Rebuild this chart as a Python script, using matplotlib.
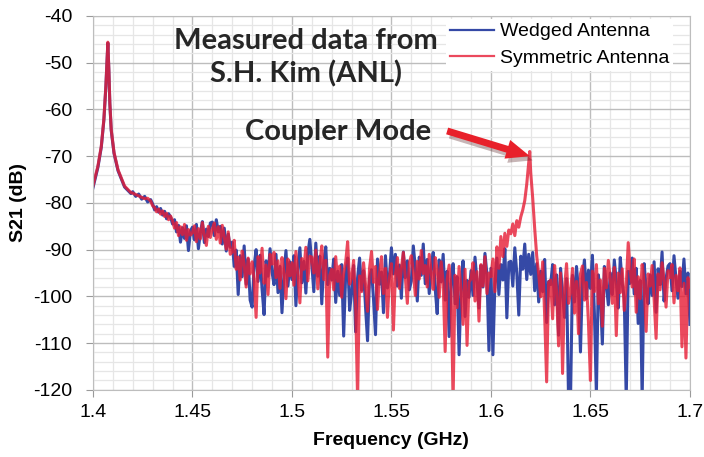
import numpy as np
import matplotlib.pyplot as plt
import matplotlib.patheffects as pe
from matplotlib.ticker import MultipleLocator

plt.rcParams['axes.unicode_minus'] = False
plt.rcParams['font.family'] = ['Liberation Sans', 'DejaVu Sans']

# --- data ---
# low-frequency resonance (shared shape, both antennas)
start_freq = [1.400, 1.4025, 1.4042, 1.4055, 1.4065, 1.4072, 1.4075, 1.4080,
              1.4085, 1.4092, 1.4106, 1.4126, 1.4159, 1.4191, 1.4200, 1.4215,
              1.4230, 1.4245, 1.4260, 1.4275, 1.4290]
wedged_start = [-76.8, -72.4, -68.1, -62.3, -55.2, -48.6, -45.8, -51.6,
                -58.8, -64.5, -69.4, -73.1, -76.6, -78.0, -77.6, -78.6,
                -78.1, -79.2, -78.6, -79.8, -79.3]
symmetric_start = [-76.4, -72.1, -67.9, -62.1, -55.0, -48.4, -45.6, -51.4,
                   -58.6, -64.3, -69.2, -72.9, -76.4, -77.8, -77.9, -78.2,
                   -78.5, -78.8, -79.1, -79.0, -79.6]

# noisy part, one value every 1 MHz from 1.430 to 1.700 GHz
noise_freq = np.round(np.arange(1.430, 1.7005, 0.001), 3)
wedged_noise = [
    -80.2, -81.5, -80.8, -82.0, -81.2, -82.6, -81.8, -83.4, -82.3, -83.0,
    -84.5, -83.6, -86.2, -84.8, -88.4, -85.3, -87.6, -84.9, -90.2, -86.0,
    -85.2, -87.9, -84.6, -89.8, -86.3, -84.0, -88.5, -85.6, -87.2, -84.3,
    -84.1, -87.0, -83.6, -86.2, -85.0, -88.8, -85.4, -90.3, -86.7, -89.5,
    -88.4, -93.6, -90.1, -99.6, -91.3, -95.8, -89.2, -97.4, -92.0, -100.8,
    -102.3, -93.5, -90.0, -96.8, -91.2, -98.5, -103.9, -92.4, -95.7, -89.8,
    -94.8, -97.5, -91.0, -99.2, -93.6, -103.5, -95.4, -90.2, -97.8, -92.6,
    -96.4, -91.3, -102.0, -93.8, -89.6, -97.1, -92.5, -99.3, -90.8, -87.8,
    -93.2, -99.0, -88.6, -95.7, -91.4, -101.6, -92.8, -89.4, -97.5, -94.0,
    -96.5, -92.0, -101.3, -94.6, -99.8, -93.2, -108.5, -95.4, -91.8, -103.0,
    -99.2, -93.4, -107.6, -96.0, -91.8, -98.7, -94.5, -102.4, -109.5, -95.9,
    -94.3, -100.6, -108.2, -92.0, -97.4, -94.8, -103.5, -91.3, -98.2, -95.6,
    -89.6, -95.2, -91.0, -97.8, -93.3, -100.4, -90.5, -96.0, -92.4, -98.6,
    -96.7, -89.2, -93.8, -101.0, -91.6, -95.5, -88.8, -97.3, -92.1, -99.4,
    -93.8, -90.6, -98.4, -103.7, -92.2, -96.9, -91.0, -100.8, -94.6, -108.6,
    -97.4, -93.0, -101.6, -95.8, -112.5, -98.0, -92.4, -104.3, -96.6, -100.2,
    -94.5, -99.8, -91.6, -96.8, -102.5, -93.4, -98.0, -90.8, -95.3, -111.6,
    -94.0, -112.5, -97.3, -91.8, -99.6, -93.2, -96.5, -89.8, -104.6, -92.7,
    -92.5, -97.8, -89.6, -95.0, -104.0, -91.4, -94.2, -88.8, -96.4, -91.0,
    -95.3, -90.6, -98.8, -93.0, -101.2, -94.6, -99.0, -92.1, -105.6, -96.8,
    -97.5, -93.2, -101.8, -95.4, -108.3, -94.0, -99.6, -104.5, -96.2, -122.0,
    -122.0, -95.5, -101.2, -93.6, -98.7, -111.9, -96.0, -92.2, -100.5, -94.4,
    -98.3, -91.2, -103.6, -121.0, -95.4, -99.8, -110.2, -93.6, -97.5, -101.8,
    -95.0, -99.6, -92.2, -96.8, -102.5, -91.7, -97.3, -100.4, -122.0, -94.6,
    -97.2, -91.8, -99.5, -94.0, -105.8, -96.6, -122.0, -93.0, -98.4, -101.6,
    -95.4, -99.8, -92.6, -103.4, -94.1, -97.5, -90.5, -101.0, -96.2, -93.5,
    -93.0, -98.8, -91.3, -96.2, -100.4, -94.6, -97.9, -92.0, -99.5, -95.0, -106.0]
symmetric_noise = [
    -80.6, -81.0, -81.9, -81.3, -82.4, -81.7, -82.9, -82.2, -83.6, -82.8,
    -83.8, -85.4, -84.2, -87.0, -85.1, -86.8, -84.6, -88.0, -85.7, -86.9,
    -86.4, -84.9, -88.3, -85.5, -87.7, -84.2, -86.9, -89.1, -85.0, -87.4,
    -85.6, -84.3, -87.8, -85.1, -88.6, -84.8, -87.3, -89.9, -86.2, -91.0,
    -90.5, -88.0, -94.2, -91.6, -96.5, -90.3, -93.1, -98.0, -91.8, -95.2,
    -92.6, -96.3, -104.5, -91.5, -95.0, -89.7, -97.2, -93.3, -99.6, -91.0,
    -93.1, -90.6, -96.0, -92.4, -98.3, -91.7, -94.9, -100.5, -92.0, -95.6,
    -92.8, -97.6, -90.4, -95.3, -101.4, -91.9, -94.2, -89.5, -96.7, -91.4,
    -91.6, -95.0, -90.1, -98.4, -93.0, -89.2, -96.4, -92.3, -113.0, -95.5,
    -94.2, -98.6, -91.5, -96.8, -93.5, -100.2, -95.0, -92.7, -88.3, -97.4,
    -96.0, -92.3, -101.5, -122.0, -95.6, -99.0, -92.8, -97.5, -103.2, -94.0,
    -90.4, -97.0, -93.6, -102.8, -95.2, -91.5, -99.4, -94.0, -104.5, -96.1,
    -93.0, -107.2, -95.4, -91.7, -98.3, -93.9, -90.6, -96.2, -101.5, -92.8,
    -91.3, -94.6, -99.8, -92.5, -96.3, -90.2, -95.1, -93.4, -98.0, -91.0,
    -95.0, -98.5, -91.7, -94.3, -100.2, -92.6, -97.0, -111.8, -96.4, -93.3,
    -99.0, -122.0, -95.5, -102.4, -93.6, -98.8, -106.0, -94.2, -110.5, -97.0,
    -96.2, -92.8, -101.0, -94.7, -105.3, -93.2, -97.8, -91.5, -99.4, -95.0,
    -95.8, -92.0, -99.0, -89.4, -94.0, -87.2, -91.5, -86.5, -89.3, -85.8,
    -86.6, -84.5, -87.0, -83.8, -85.2, -83.0, -81.5, -79.5, -76.0, -71.5,
    -73.5, -79.0, -85.5, -91.3, -95.2, -100.1, -92.6, -104.0, -118.3, -97.0,
    -96.5, -104.8, -93.4, -99.2, -110.6, -95.0, -116.5, -98.2, -93.0, -101.5,
    -99.3, -94.0, -103.6, -96.8, -108.0, -95.2, -93.5, -100.8, -97.0, -105.5,
    -118.0, -94.6, -99.0, -93.2, -101.6, -96.5, -106.4, -94.0, -98.2, -92.3,
    -96.3, -101.5, -93.8, -108.4, -95.0, -99.2, -94.1, -103.0, -97.6, -88.5,
    -94.4, -98.0, -92.0, -103.4, -95.8, -100.5, -93.2, -97.0, -107.5, -95.2,
    -97.8, -93.4, -100.6, -109.0, -95.2, -98.6, -92.8, -96.4, -102.3, -94.5,
    -96.0, -93.2, -101.4, -95.5, -98.8, -93.9, -110.8, -97.2, -113.2, -96.0, -98.0]

# coupler mode peak top (symmetric antenna only)
coupler_freq = [1.6195]
coupler_peak = [-69.0]

# --- assemble series ---
wedged_f = np.concatenate([start_freq, noise_freq])
wedged_v = np.concatenate([wedged_start, wedged_noise])

sym_f = np.concatenate([start_freq, noise_freq, coupler_freq])
sym_v = np.concatenate([symmetric_start, symmetric_noise, coupler_peak])
order = np.argsort(sym_f, kind='stable')
sym_f, sym_v = sym_f[order], sym_v[order]

# --- plot ---
fig = plt.figure(figsize=(7.04, 4.57), dpi=100)
ax = fig.add_axes([0.132, 0.147, 0.848, 0.818])

ax.plot(wedged_f, wedged_v, color='#3549a6', lw=2.2, label='Wedged Antenna')
ax.plot(sym_f, sym_v, color='#e61c34', lw=2.2, alpha=0.8, label='Symmetric Antenna')

ax.set_xlim(1.4, 1.7)
ax.set_ylim(-120, -40)
ax.xaxis.set_minor_locator(MultipleLocator(0.01))
ax.yaxis.set_major_locator(MultipleLocator(10))
ax.yaxis.set_minor_locator(MultipleLocator(2))
ax.set_xticks([1.4, 1.45, 1.5, 1.55, 1.6, 1.65, 1.7])
ax.set_xticklabels(['1.4', '1.45', '1.5', '1.55', '1.6', '1.65', '1.7'])

ax.grid(True, which='major', color='#bdbdbd', lw=1.0)
ax.grid(True, which='minor', color='#e6e6e6', lw=0.9)
ax.set_axisbelow(True)
for s in ax.spines.values():
    s.set_color('#bdbdbd')
ax.tick_params(which='major', direction='out', length=5, color='#9a9a9a',
               labelsize=14)
ax.tick_params(axis='y', pad=10)
ax.tick_params(axis='x', pad=5)
ax.tick_params(which='minor', length=0)

ax.set_xlabel('Frequency (GHz)', fontsize=14, fontweight='bold', labelpad=8)
ax.set_ylabel('S21 (dB)', fontsize=14, fontweight='bold', labelpad=4)

leg = ax.legend(loc='upper left', bbox_to_anchor=(0.591, 0.992), fontsize=14,
                frameon=True, fancybox=False, handlelength=2.3, handletextpad=0.3,
                borderaxespad=0, borderpad=0.2, labelspacing=0.45)
leg.get_frame().set_edgecolor('none')
leg.get_frame().set_facecolor('white')
leg.get_frame().set_alpha(1.0)
for line in leg.get_lines():
    line.set_linewidth(1.6)

ax.text(1.5071, -48.9, 'Measured data from\nS.H. Kim (ANL)', ha='center', va='center',
        fontsize=21, fontweight='bold', family='Lato', color='#262626',
        linespacing=1.3)
ax.text(1.523, -64.8, 'Coupler Mode', ha='center', va='center', fontsize=21,
        fontweight='bold', family='Lato', color='#262626')

ax.annotate('', xy=(1.6196, -70.0), xytext=(1.578, -64.6),
            arrowprops=dict(arrowstyle='simple,head_length=1.7,head_width=1.4,tail_width=0.5',
                            color='#e8202a', lw=0, shrinkA=0, shrinkB=0,
                            path_effects=[pe.withSimplePatchShadow(offset=(2, -3),
                                                                  alpha=0.3)]))

fig.savefig('out.png', dpi=100)
